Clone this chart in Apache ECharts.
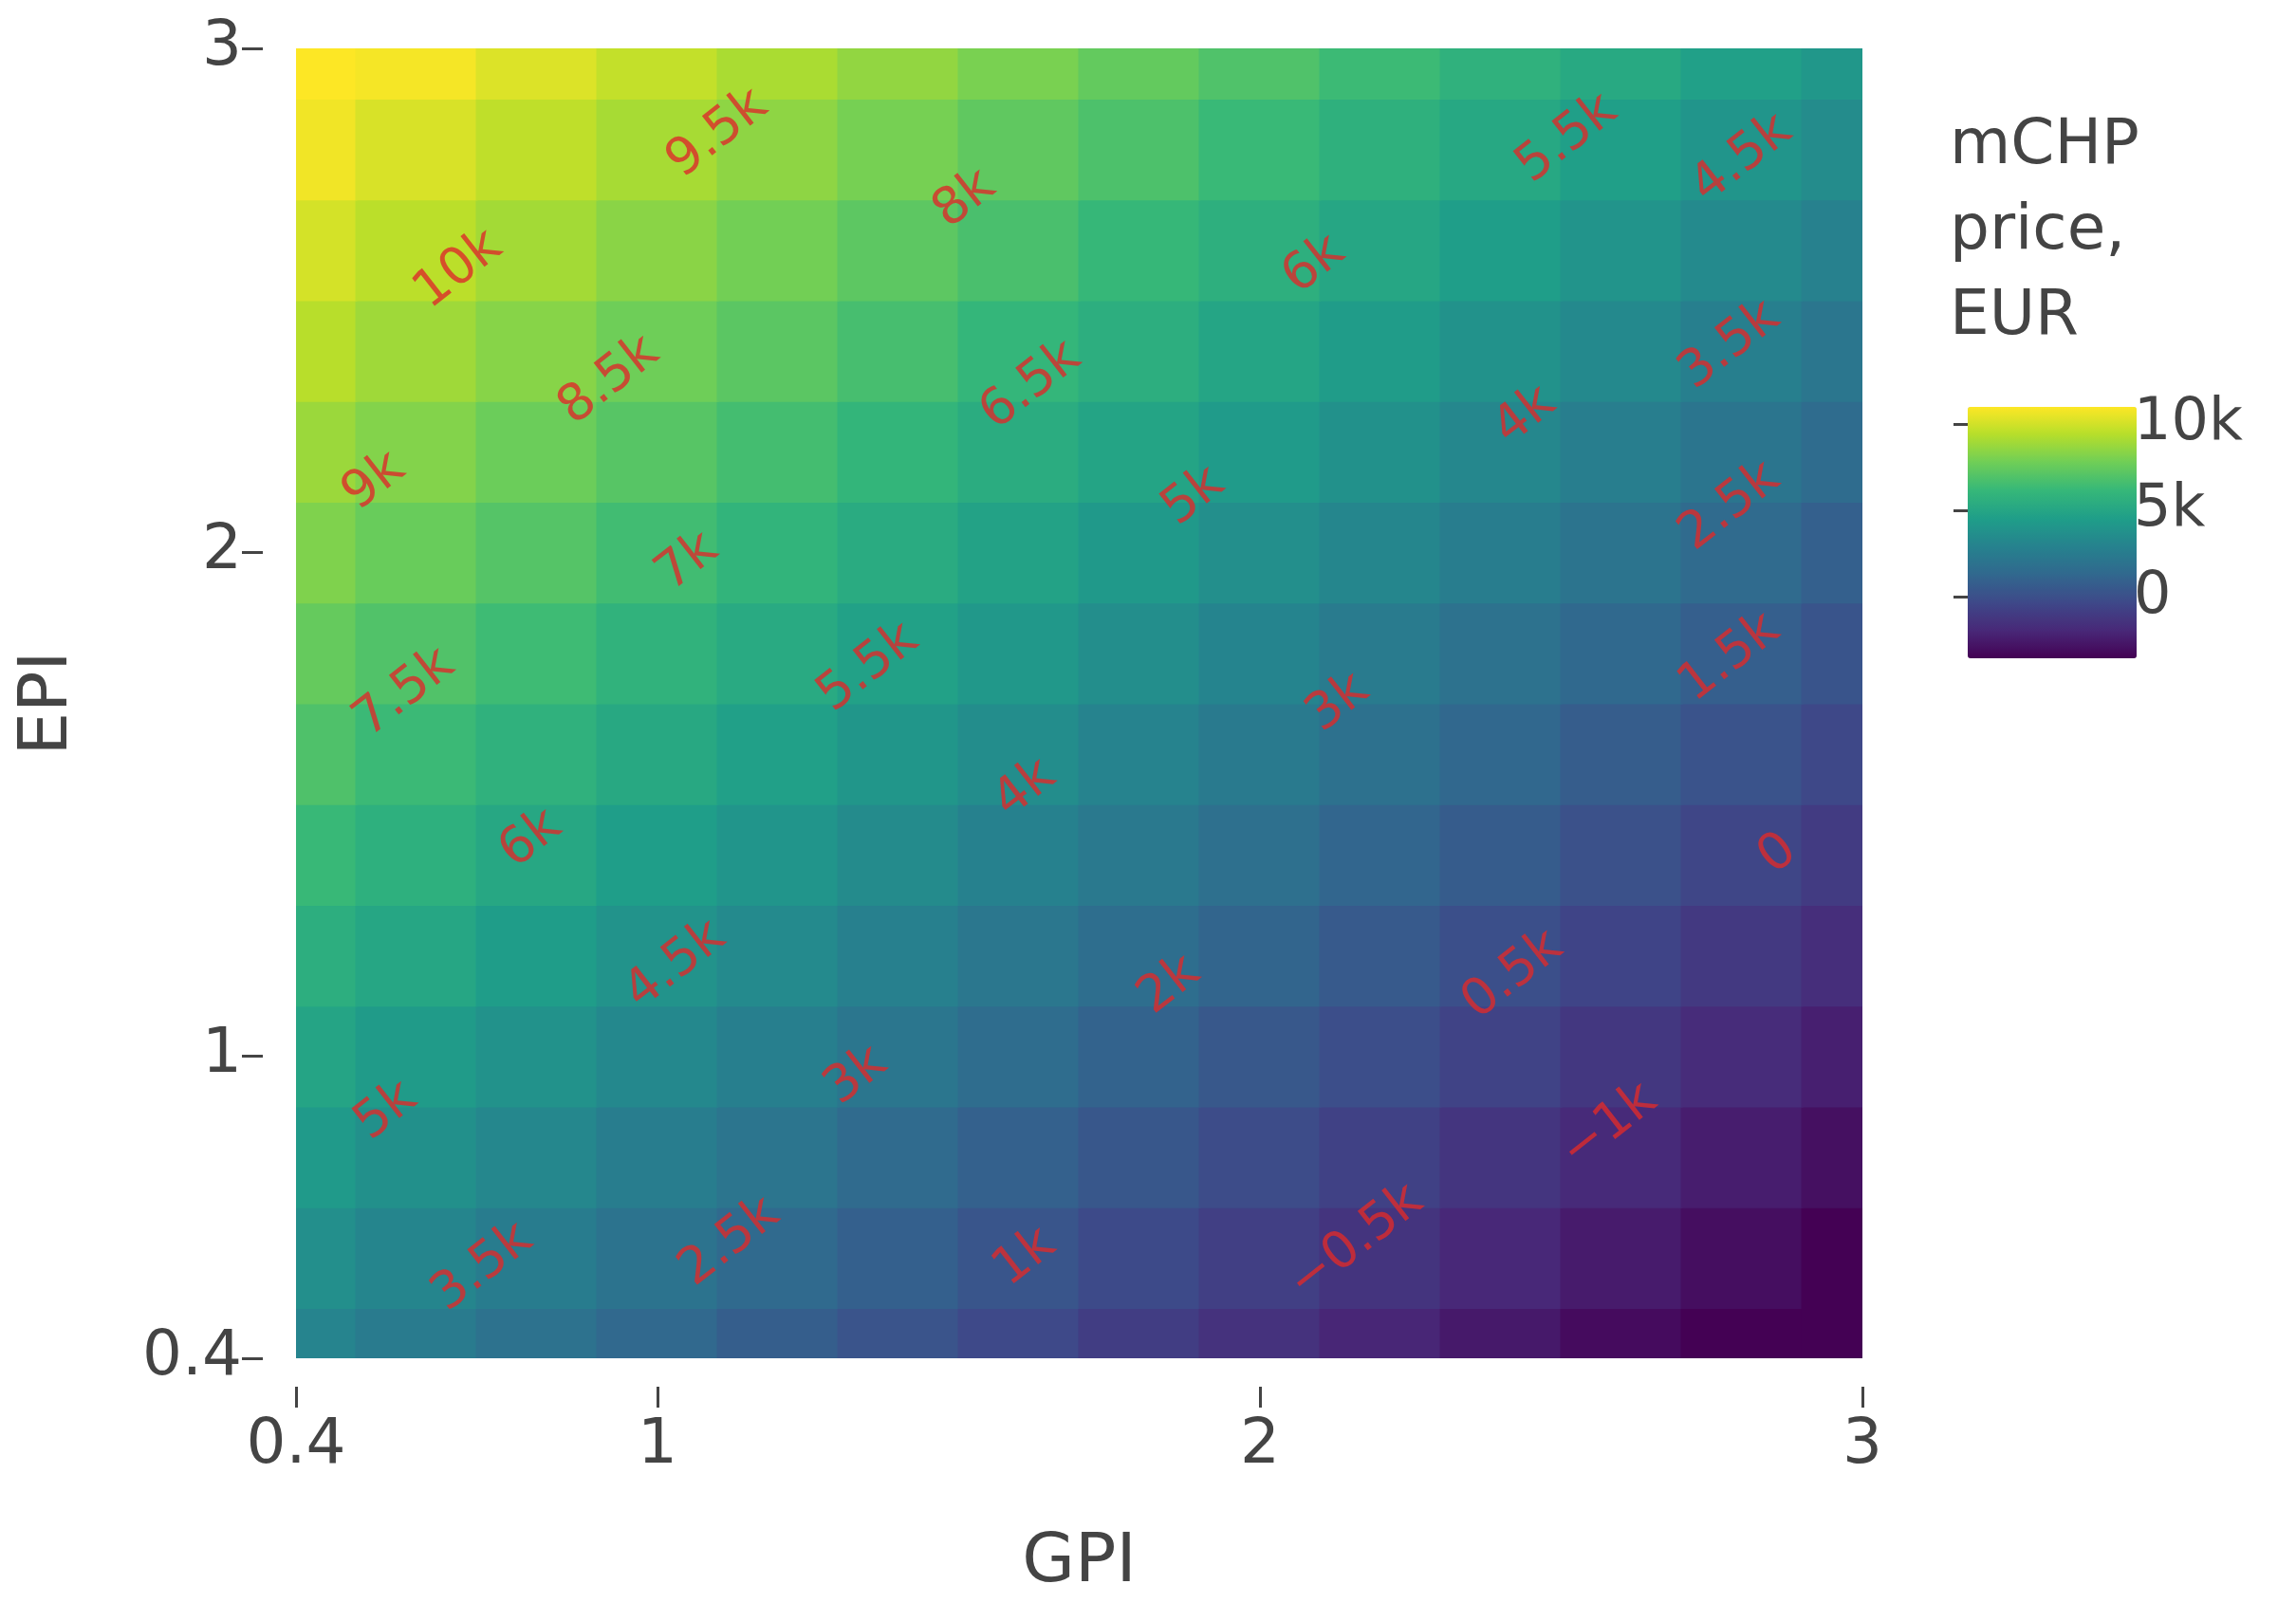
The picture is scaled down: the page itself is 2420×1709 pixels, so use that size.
<!DOCTYPE html>
<html><head><meta charset="utf-8">
<script src="https://cdn.jsdelivr.net/npm/echarts@6/dist/echarts.min.js"></script>
<style>html,body{margin:0;background:#fff}#c{width:2420px;height:1709px}</style>
</head><body><div id="c"></div>
<script>
const gpiVals = [0.4,0.6,0.8,1.0,1.2,1.4,1.6,1.8,2.0,2.2,2.4,2.6,2.8,3.0];
const epiVals = [0.4,0.6,0.8,1.0,1.2,1.4,1.6,1.8,2.0,2.2,2.4,2.6,2.8,3.0];
// price rows, one per EPI value (bottom to top), columns follow gpiVals
const priceRows = [
 [3850,3290,2740,2180,1630,1070,510,-40,-600,-1160,-1710,-2270,-2820,-3380],
 [4490,3930,3380,2820,2270,1710,1150,600,40,-520,-1070,-1630,-2180,-2740],
 [5130,4570,4020,3460,2910,2350,1790,1240,680,120,-430,-990,-1540,-2100],
 [5770,5210,4660,4100,3550,2990,2430,1880,1320,760,210,-350,-900,-1460],
 [6410,5850,5300,4740,4190,3630,3070,2520,1960,1400,850,290,-260,-820],
 [7050,6490,5940,5380,4830,4270,3710,3160,2600,2040,1490,930,380,-180],
 [7690,7130,6580,6020,5470,4910,4350,3800,3240,2680,2130,1570,1020,460],
 [8330,7770,7220,6660,6110,5550,4990,4440,3880,3320,2770,2210,1660,1100],
 [8970,8410,7860,7300,6750,6190,5630,5080,4520,3960,3410,2850,2300,1740],
 [9610,9050,8500,7940,7390,6830,6270,5720,5160,4600,4050,3490,2940,2380],
 [10250,9690,9140,8580,8030,7470,6910,6360,5800,5240,4690,4130,3580,3020],
 [10890,10330,9780,9220,8670,8110,7550,7000,6440,5880,5330,4770,4220,3660],
 [11530,10970,10420,9860,9310,8750,8190,7640,7080,6520,5970,5410,4860,4300],
 [12170,11610,11060,10500,9950,9390,8830,8280,7720,7160,6610,6050,5500,4940]
];
const contourLabels = [
 [0.67,2.56,'10k'],[1.10,2.83,'9.5k'],[1.51,2.70,'8k'],[2.09,2.57,'6k'],[2.51,2.82,'5.5k'],[2.80,2.78,'4.5k'],
 [0.53,2.14,'9k'],[0.92,2.34,'8.5k'],[1.62,2.33,'6.5k'],[2.44,2.27,'4k'],[2.78,2.41,'3.5k'],
 [1.05,1.98,'7k'],[1.89,2.11,'5k'],[2.78,2.09,'2.5k'],
 [0.58,1.72,'7.5k'],[1.35,1.77,'5.5k'],[2.13,1.70,'3k'],[2.78,1.79,'1.5k'],
 [0.79,1.43,'6k'],[1.61,1.53,'4k'],[2.86,1.40,'0'],
 [1.03,1.18,'4.5k'],[1.85,1.14,'2k'],[2.42,1.16,'0.5k'],
 [0.55,0.89,'5k'],[1.33,0.96,'3k'],[2.58,0.86,'−1k'],
 [0.71,0.58,'3.5k'],[1.12,0.63,'2.5k'],[1.61,0.60,'1k'],[2.16,0.63,'−0.5k']
];
const xTicks = [0.4,1,2,3];
const yTicks = [0.4,1,2,3];
const cbTicks = [0,5000,10000];

const cells = [];
epiVals.forEach((e,i)=>gpiVals.forEach((g,j)=>cells.push([g,e,priceRows[i][j]])));

const F = 'DejaVu Sans';
const chart = echarts.init(document.getElementById('c'));
chart.setOption({
  backgroundColor:'#fff',
  animation:false,
  grid:[{left:312,right:457,top:51,bottom:277},
        {left:2059,top:414,width:178,height:265}],
  xAxis:[{type:'value',min:0.4,max:3,name:'GPI',nameLocation:'middle',nameGap:150,
    nameTextStyle:{fontFamily:F,fontSize:72,color:'#444'},offset:30,
    axisLine:{show:false},splitLine:{show:false},
    axisTick:{show:true,length:22,customValues:xTicks,lineStyle:{color:'#444',width:3}},
    axisLabel:{customValues:xTicks,fontFamily:F,fontSize:66,color:'#444',margin:30}},
   {gridIndex:1,type:'value',min:0,max:1,show:false}],
  yAxis:[{type:'value',min:0.4,max:3,name:'EPI',nameLocation:'middle',nameGap:190,
    nameTextStyle:{fontFamily:F,fontSize:72,color:'#444'},offset:35,
    axisLine:{show:false},splitLine:{show:false},
    axisTick:{show:true,length:22,customValues:yTicks,lineStyle:{color:'#444',width:3}},
    axisLabel:{customValues:yTicks,fontFamily:F,fontSize:66,color:'#444',margin:22}},
   {gridIndex:1,type:'value',min:-2700,max:11800,position:'right',
    axisLine:{show:false},splitLine:{show:false},
    axisTick:{show:true,length:18,customValues:cbTicks,lineStyle:{color:'#444',width:3}},
    axisLabel:{customValues:cbTicks,fontFamily:F,fontSize:62,color:'#444',margin:12,
      formatter:v=>v===0?'0':(v/1000)+'k'}}],
  visualMap:{type:'continuous',seriesIndex:0,dimension:2,min:-2700,max:11800,
    left:2059,top:414,itemWidth:178,itemHeight:265,calculable:false,text:['',''],
    showLabel:false,hoverLink:false,
    inRange:{color:['#440154','#482878','#3e4989','#31688e','#26828e','#1f9e89','#35b779','#6ece58','#b5de2b','#fde725']}},
  graphic:[{type:'text',left:2055,top:110,style:{text:'mCHP\nprice,\nEUR',fontFamily:F,fontSize:66,lineHeight:90,fill:'#444'}}],
  series:[
   {type:'custom',data:cells,encode:{x:0,y:1},
    renderItem:(params,api)=>{
      const g=api.value(0),e=api.value(1);
      const p1=api.coord([g-0.1,e+0.1]),p2=api.coord([g+0.1,e-0.1]);
      const r=echarts.graphic.clipRectByRect({x:p1[0]-1,y:p1[1]-1,width:p2[0]-p1[0]+2,height:p2[1]-p1[1]+2},
        {x:params.coordSys.x,y:params.coordSys.y,width:params.coordSys.width,height:params.coordSys.height});
      if(!r) return;
      return {type:'rect',shape:r,style:{fill:api.visual('color')}};
    }},
   {type:'scatter',data:contourLabels,symbolSize:0,z:5,
    label:{show:true,position:'inside',formatter:p=>p.data[2],rotate:38,
      fontFamily:F,fontSize:54,color:'#dd2a2a'}}
  ]
});
</script></body></html>
